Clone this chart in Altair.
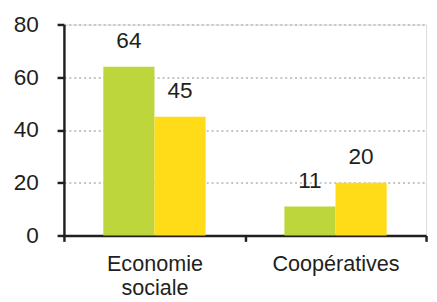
import altair as alt
import pandas as pd

categories = ["Economie sociale", "Coopératives"]
series = ["Série 1", "Série 2"]
values_1 = [64, 11]
values_2 = [45, 20]
colors = ["#BDD63B", "#FFDC17"]

rows = []
for c, v1, v2 in zip(categories, values_1, values_2):
    rows.append({"group": c, "series": series[0], "value": v1})
    rows.append({"group": c, "series": series[1], "value": v2})
df = pd.DataFrame(rows)

FONT = "Liberation Sans"
TXT = "#231F20"
FS = 23

x = alt.X(
    "group:N",
    sort=categories,
    title=None,
    scale=alt.Scale(paddingInner=0, paddingOuter=0),
    axis=alt.Axis(
        labelAngle=0,
        labelExpr="split(datum.label, ' ')",
        labelFont=FONT,
        labelFontSize=22,
        labelColor=TXT,
        labelLineHeight=24.5,
        labelPadding=13,
        labelBaseline="top",
        tickBand="extent",
        tickSize=6,
        tickWidth=2.5,
        tickColor="#231F20",
        domainColor="#231F20",
        domainWidth=2.5,
        grid=False,
    ),
)
xo = alt.XOffset(
    "series:N",
    sort=series,
    scale=alt.Scale(paddingInner=0, paddingOuter=0.77),
)
y = alt.Y(
    "value:Q",
    title=None,
    scale=alt.Scale(domain=[0, 80], nice=False),
    axis=alt.Axis(
        values=[0, 20, 40, 60, 80],
        labelFont=FONT,
        labelFontSize=FS,
        labelColor=TXT,
        labelPadding=19,
        tickSize=7,
        tickWidth=2.5,
        tickColor="#231F20",
        domainColor="#231F20",
        domainWidth=2.5,
        grid=True,
        gridColor="#C4C4C4",
        gridDash=[2, 3],
        gridWidth=2,
    ),
)
color = alt.Color(
    "series:N",
    scale=alt.Scale(domain=series, range=colors),
    legend=None,
)

bars = alt.Chart(df).mark_bar().encode(x=x, xOffset=xo, y=y, color=color)
labels = alt.Chart(df).mark_text(
    dy=-19, baseline="alphabetic", font=FONT, fontSize=FS, color=TXT
).encode(x=x, xOffset=xo, y=y, text="value:Q")

chart = (
    alt.layer(bars, labels)
    .properties(
        width=369,
        height=215,
        autosize=alt.AutoSizeParams(type="none"),
        padding={"left": 57, "top": 14, "right": 3, "bottom": 65},
    )
    .configure_view(stroke=None)
    .configure(background="white")
)

chart.save("out.html", embed_options={"renderer": "svg", "actions": False})
